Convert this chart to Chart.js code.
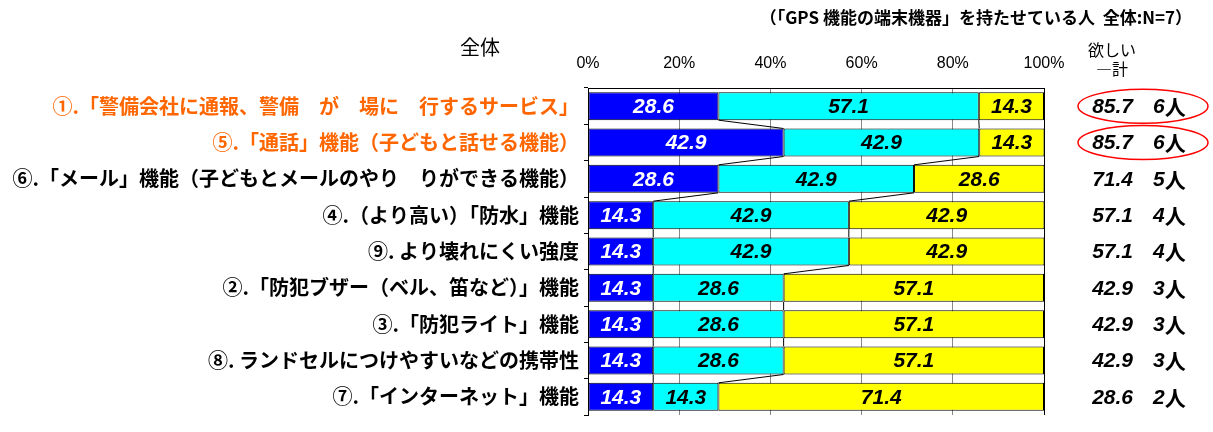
<!DOCTYPE html>
<html>
<head>
<meta charset="utf-8">
<script src="https://cdn.jsdelivr.net/npm/chart.js@4.4.1/dist/chart.umd.min.js"></script>
<style>
html,body{margin:0;padding:0;background:#fff;}
#wrap{position:relative;width:1213px;height:432px;}
</style>
</head>
<body>
<div id="wrap"><canvas id="c" width="1213" height="432"></canvas></div>
<script>
const categories = [
  "①.「警備会社に通報、警備　が　場に　行するサービス」",
  "⑤.「通話」機能（子どもと話せる機能）",
  "⑥.「メール」機能（子どもとメールのやり　りができる機能）",
  "④.（より高い）「防水」機能",
  "⑨. より壊れにくい強度",
  "②.「防犯ブザー（ベル、笛など）」機能",
  "③.「防犯ライト」機能",
  "⑧. ランドセルにつけやすいなどの携帯性",
  "⑦.「インターネット」機能"
];
const seriesNames = ["とても欲しい", "やや欲しい", "欲しくない"];
const blueValues   = [28.6, 42.9, 28.6, 14.3, 14.3, 14.3, 14.3, 14.3, 14.3];
const cyanValues   = [57.1, 42.9, 42.9, 42.9, 42.9, 28.6, 28.6, 28.6, 14.3];
const yellowValues = [14.3, 14.3, 28.6, 42.9, 42.9, 57.1, 57.1, 57.1, 71.4];
const totalValues  = [85.7, 85.7, 71.4, 57.1, 57.1, 42.9, 42.9, 42.9, 28.6];
const personCounts = [6, 6, 5, 4, 4, 3, 3, 3, 2];
const xTicks = [0, 20, 40, 60, 80, 100];
const titleText = "（「GPS 機能の端末機器」を持たせている人  全体:N=7）";
const groupText = "全体";
const totalHeader = ["欲しい", "―計"];
const highlightedRows = [0, 1];

const ORANGE = "#FF6600";
const labelColor = (i) => highlightedRows.includes(i) ? ORANGE : "#000000";
const NUM_FONT = "'Liberation Sans', Arial, sans-serif";
const JP_FONT = "'Noto Sans CJK JP', sans-serif";

const extras = {
  id: "extras",
  afterDatasetsDraw(chart) {
    const ctx = chart.ctx;
    const metas = [0,1,2].map(d => chart.getDatasetMeta(d));
    // series lines
    ctx.save();
    ctx.strokeStyle = "#000";
    ctx.lineWidth = 1;
    for (let d = 0; d < 2; d++) {
      const els = metas[d].data;
      for (let i = 0; i < els.length - 1; i++) {
        const a = els[i], b = els[i+1];
        ctx.beginPath();
        ctx.moveTo(a.x, a.y + a.height / 2);
        ctx.lineTo(b.x, b.y - b.height / 2);
        ctx.stroke();
      }
    }
    ctx.restore();
    // value labels
    ctx.save();
    ctx.font = "italic bold 21px " + NUM_FONT;
    ctx.textAlign = "center";
    ctx.textBaseline = "middle";
    const arrs = [blueValues, cyanValues, yellowValues];
    for (let d = 0; d < 3; d++) {
      metas[d].data.forEach((el, i) => {
        const cx = (el.x + el.base) / 2;
        ctx.fillStyle = d === 0 ? "#FFFFFF" : "#000000";
        ctx.fillText(arrs[d][i].toFixed(1), cx, el.y + 1);
      });
    }
    ctx.restore();
    // totals on right
    ctx.save();
    ctx.textBaseline = "middle";
    metas[0].data.forEach((el, i) => {
      ctx.fillStyle = "#000";
      ctx.font = "italic bold 21px " + NUM_FONT;
      ctx.textAlign = "right";
      ctx.fillText(totalValues[i].toFixed(1), 1133, el.y + 1);
      ctx.textAlign = "left";
      ctx.fillText(String(personCounts[i]), 1153, el.y + 1);
      const w = ctx.measureText(String(personCounts[i])).width;
      ctx.font = "bold 21px " + JP_FONT;
      ctx.fillText("人", 1153 + w, el.y + 1);
      if (highlightedRows.includes(i)) {
        ctx.strokeStyle = "#FF0000";
        ctx.lineWidth = 1.5;
        ctx.beginPath();
        ctx.ellipse(1143, el.y, 65, 17, 0, 0, Math.PI * 2);
        ctx.stroke();
      }
    });
    ctx.restore();
    // headers
    ctx.save();
    ctx.fillStyle = "#000";
    ctx.textBaseline = "middle";
    ctx.font = "bold 17px " + JP_FONT;
    ctx.textAlign = "right";
    ctx.fillText(titleText, 1192, 18);
    ctx.font = "20px " + JP_FONT;
    ctx.textAlign = "center";
    ctx.fillText(groupText, 480, 47);
    ctx.font = "16px " + JP_FONT;
    ctx.fillText(totalHeader[0], 1112, 50);
    ctx.fillText(totalHeader[1], 1112, 69);
    ctx.restore();
  }
};

new Chart(document.getElementById("c"), {
  type: "bar",
  data: {
    labels: categories,
    datasets: [
      { label: seriesNames[0], data: blueValues, backgroundColor: "#0000FF" },
      { label: seriesNames[1], data: cyanValues, backgroundColor: "#00FFFF" },
      { label: seriesNames[2], data: yellowValues, backgroundColor: "#FFFF00" }
    ].map(ds => Object.assign(ds, {
      borderColor: "#000000", borderWidth: 1, borderSkipped: false,
      barPercentage: 0.77, categoryPercentage: 1
    }))
  },
  options: {
    indexAxis: "y",
    responsive: false,
    animation: false,
    devicePixelRatio: 1,
    layout: { padding: { left: 0, right: 169, top: 0, bottom: 0 } },
    plugins: { legend: { display: false }, tooltip: { enabled: false }, title: { display: false } },
    scales: {
      x: {
        position: "top",
        stacked: true,
        min: 0, max: 100,
        afterBuildTicks(scale) { scale.ticks = xTicks.map(v => ({ value: v })); },
        afterFit(scale) { scale.height = 88; },
        ticks: {
          callback: v => v + "%",
          font: { family: NUM_FONT, size: 16 },
          color: "#000",
          padding: 15,
          maxRotation: 0
        },
        grid: {
          drawTicks: false,
          color: ctx => (ctx.tick && (ctx.tick.value === 100)) ? "#000000" : "#888888",
          lineWidth: 1
        },
        border: { display: true, color: "#000000", width: 1 }
      },
      y: {
        stacked: true,
        afterFit(scale) { scale.width = 588; },
        ticks: {
          font: { family: JP_FONT, size: 20, weight: "bold" },
          color: ctx => labelColor(ctx.index),
          padding: 5,
          autoSkip: false
        },
        grid: { display: true, drawOnChartArea: false, drawTicks: true, tickLength: 4, tickColor: "#000000" },
        border: { display: true, color: "#000000", width: 1 }
      }
    }
  },
  plugins: [extras]
});
</script>
</body>
</html>
